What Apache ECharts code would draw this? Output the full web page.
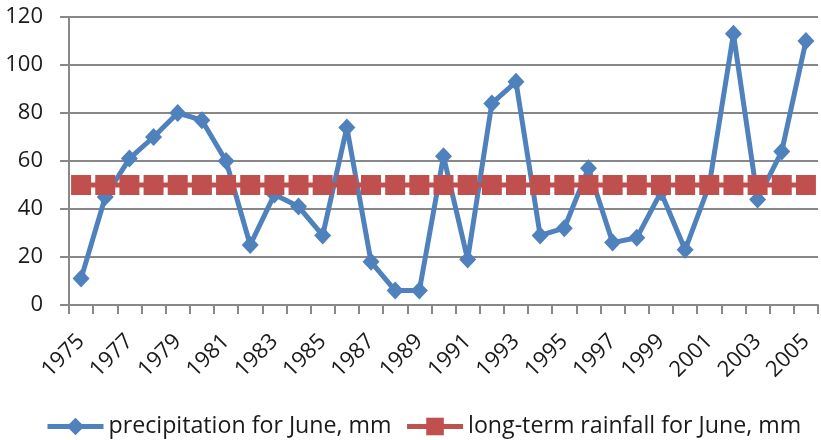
<!DOCTYPE html>
<html>
<head>
<meta charset="utf-8">
<script src="https://cdn.jsdelivr.net/npm/echarts@6/dist/echarts.min.js"></script>
<style>html,body{margin:0;padding:0;background:#fff}#c{width:821px;height:440px}</style>
</head>
<body>
<div id="c"></div>
<script>
const years = ['1975','1976','1977','1978','1979','1980','1981','1982','1983','1984','1985','1986','1987','1988','1989','1990','1991','1992','1993','1994','1995','1996','1997','1998','1999','2000','2001','2002','2003','2004','2005'];
const precipitation = [11,45,61,70,80,77,60,25,46,41,29,74,18,6,6,62,19,84,93,29,32,57,26,28,47,23,50,113,44,64,110];
const longTerm = [50,50,50,50,50,50,50,50,50,50,50,50,50,50,50,50,50,50,50,50,50,50,50,50,50,50,50,50,50,50,50];
const seriesNames = ['precipitation for June, mm','long-term rainfall for June, mm'];

const FONT = 'Open Sans';
const chart = echarts.init(document.getElementById('c'), null, {renderer:'canvas'});
chart.setOption({
  animation:false,
  backgroundColor:'#fff',
  grid:{left:69, right:3, top:17, bottom:135, containLabel:false},
  legend:{
    top:415, left:45, itemGap:13, itemWidth:56, itemHeight:22, padding:0,
    lineStyle:{width:5},
    textStyle:{fontFamily:FONT, fontSize:23.2, color:'#1a1a1a'},
    data:seriesNames
  },
  xAxis:{
    type:'category', data:years, boundaryGap:true,
    axisLine:{lineStyle:{color:'#888', width:2}},
    axisTick:{show:true, interval:0, length:9, lineStyle:{color:'#888', width:2}},
    axisLabel:{interval:1, rotate:45, margin:33, fontFamily:FONT, fontSize:22, color:'#1a1a1a'},
    splitLine:{show:false}
  },
  yAxis:{
    type:'value', min:0, max:120, interval:20,
    axisLine:{show:true, lineStyle:{color:'#888', width:2}},
    axisTick:{show:true, length:9, lineStyle:{color:'#888', width:2}},
    axisLabel:{margin:26, fontFamily:FONT, fontSize:22, color:'#1a1a1a'},
    splitLine:{lineStyle:{color:'#888', width:2}}
  },
  series:[
    {
      name:seriesNames[0], type:'line', data:precipitation, z:3,
      symbol:'diamond', symbolSize:[17,18], showAllSymbol:true,
      lineStyle:{color:'#4F81BD', width:5},
      itemStyle:{color:'#4F81BD'}
    },
    {
      name:seriesNames[1], type:'line', data:longTerm, z:4,
      symbol:'rect', symbolSize:20, showAllSymbol:true,
      lineStyle:{color:'#C0504D', width:5},
      itemStyle:{color:'#C0504D'}
    }
  ]
});
</script>
</body>
</html>
